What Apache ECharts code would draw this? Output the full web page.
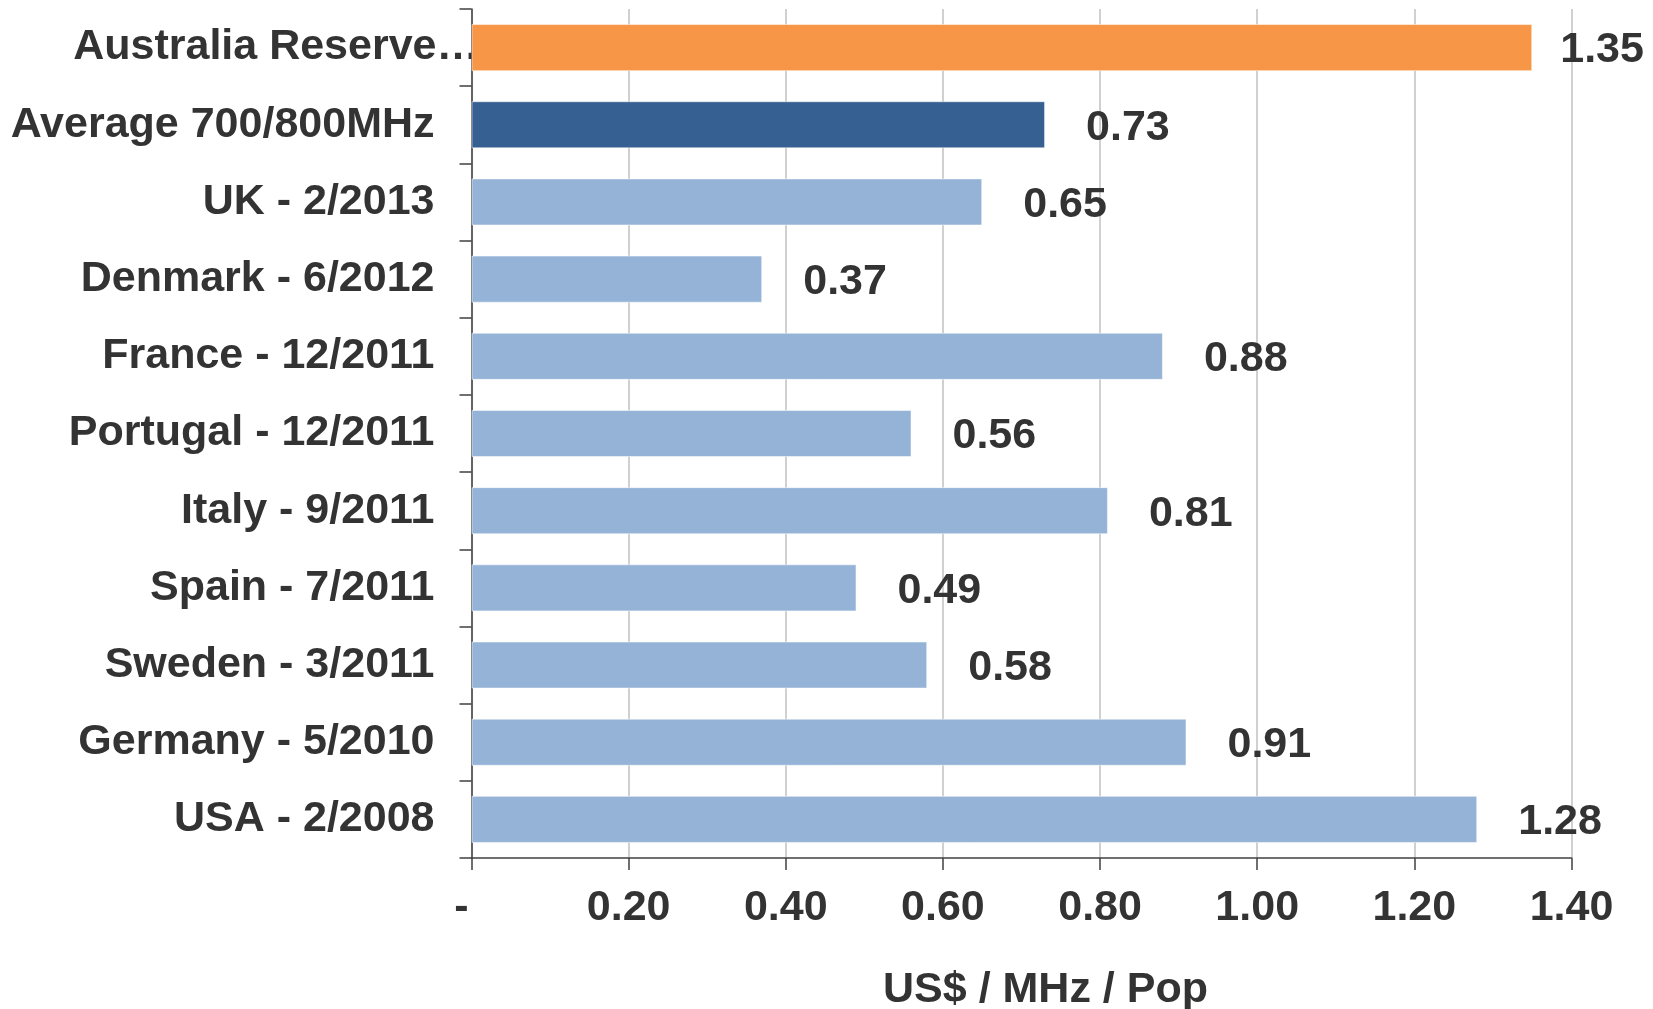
<!DOCTYPE html>
<html>
<head>
<meta charset="utf-8">
<title>Spectrum prices US$ / MHz / Pop</title>
<script src="https://cdn.jsdelivr.net/npm/echarts@6/dist/echarts.min.js"></script>
<style>
  html, body { margin: 0; padding: 0; background: #ffffff; }
  #chart { width: 1653px; height: 1009px; }
</style>
</head>
<body>
<div id="chart"></div>
<script>
// Auction results, top to bottom
const categories = [
  'Australia Reserve…',
  'Average 700/800MHz',
  'UK - 2/2013',
  'Denmark - 6/2012',
  'France - 12/2011',
  'Portugal - 12/2011',
  'Italy - 9/2011',
  'Spain - 7/2011',
  'Sweden - 3/2011',
  'Germany - 5/2010',
  'USA - 2/2008'
];
const prices = [1.35, 0.73, 0.65, 0.37, 0.88, 0.56, 0.81, 0.49, 0.58, 0.91, 1.28];
const xTicks = [0, 0.2, 0.4, 0.6, 0.8, 1.0, 1.2, 1.4];
const axisTitle = 'US$ / MHz / Pop';

const FONT = '"Liberation Sans", Arial, Helvetica, sans-serif';
const FS = 43;
const TEXT = '#333333';
const barColors = {
  reserve: '#F79646',
  average: '#366092',
  market: '#95B3D7'
};

function barColor(i) {
  if (i === 0) return barColors.reserve;
  if (i === 1) return barColors.average;
  return barColors.market;
}

const seriesData = prices.map((v, i) => {
  const item = {
    value: v,
    itemStyle: { color: barColor(i) }
  };
  // the longest bar keeps its label tucked in near the plot edge
  if (i === 0) item.label = { distance: 28 };
  return item;
});

const chart = echarts.init(document.getElementById('chart'), null, { renderer: 'canvas' });

chart.setOption({
  animation: false,
  backgroundColor: '#ffffff',
  textStyle: { fontFamily: FONT },
  grid: {
    left: 471.5,
    right: 81.5,
    top: 9,
    bottom: 151,
    containLabel: false,
    outerBoundsMode: 'none'
  },
  xAxis: {
    type: 'value',
    min: xTicks[0],
    max: xTicks[xTicks.length - 1],
    interval: 0.2,
    axisLine: { show: true, lineStyle: { color: '#404040', width: 1.5 } },
    axisTick: { show: true, length: 12, lineStyle: { color: '#404040', width: 1.5 } },
    splitLine: { show: true, lineStyle: { color: '#c0c0c0', width: 1.5 } },
    axisLabel: {
      margin: 29,
      fontFamily: FONT,
      fontSize: FS,
      fontWeight: 'bold',
      color: TEXT,
      lineHeight: FS,
      formatter: function (v) {
        if (Math.abs(v) < 1e-9) return '{dash|-}';
        return v.toFixed(2);
      },
      rich: {
        dash: {
          fontFamily: FONT,
          fontSize: FS,
          fontWeight: 'bold',
          color: TEXT,
          padding: [0, 20, 0, 0]
        }
      }
    },
    name: axisTitle,
    nameLocation: 'middle',
    nameGap: 111,
    nameTextStyle: {
      fontFamily: FONT,
      fontSize: FS,
      fontWeight: 'bold',
      color: TEXT,
      lineHeight: FS,
      padding: [0, 0, 0, 48]
    }
  },
  yAxis: {
    type: 'category',
    inverse: true,
    data: categories,
    axisLine: { show: true, lineStyle: { color: '#404040', width: 1.5 } },
    axisTick: { show: true, length: 12, lineStyle: { color: '#404040', width: 1.5 } },
    splitLine: { show: false },
    axisLabel: {
      interval: 0,
      margin: -8,
      fontFamily: FONT,
      fontSize: FS,
      fontWeight: 'bold',
      color: TEXT,
      formatter: function (name, idx) {
        return idx === 0 ? '{wide|' + name + '}' : '{std|' + name + '}';
      },
      rich: {
        wide: {
          fontFamily: FONT, fontSize: FS, fontWeight: 'bold', color: TEXT,
          padding: [0, 0, 0, 0]
        },
        std: {
          fontFamily: FONT, fontSize: FS, fontWeight: 'bold', color: TEXT,
          padding: [0, 45, 0, 0]
        }
      }
    }
  },
  series: [{
    type: 'bar',
    data: seriesData,
    barCategoryGap: '39%',
    itemStyle: {
      borderColor: 'rgba(255,255,255,0.5)',
      borderWidth: 1
    },
    label: {
      show: true,
      position: 'right',
      distance: 41,
      offset: [0, 3],
      fontFamily: FONT,
      fontSize: FS,
      fontWeight: 'bold',
      color: TEXT,
      formatter: function (p) { return p.value.toFixed(2); }
    }
  }]
});
</script>
</body>
</html>
